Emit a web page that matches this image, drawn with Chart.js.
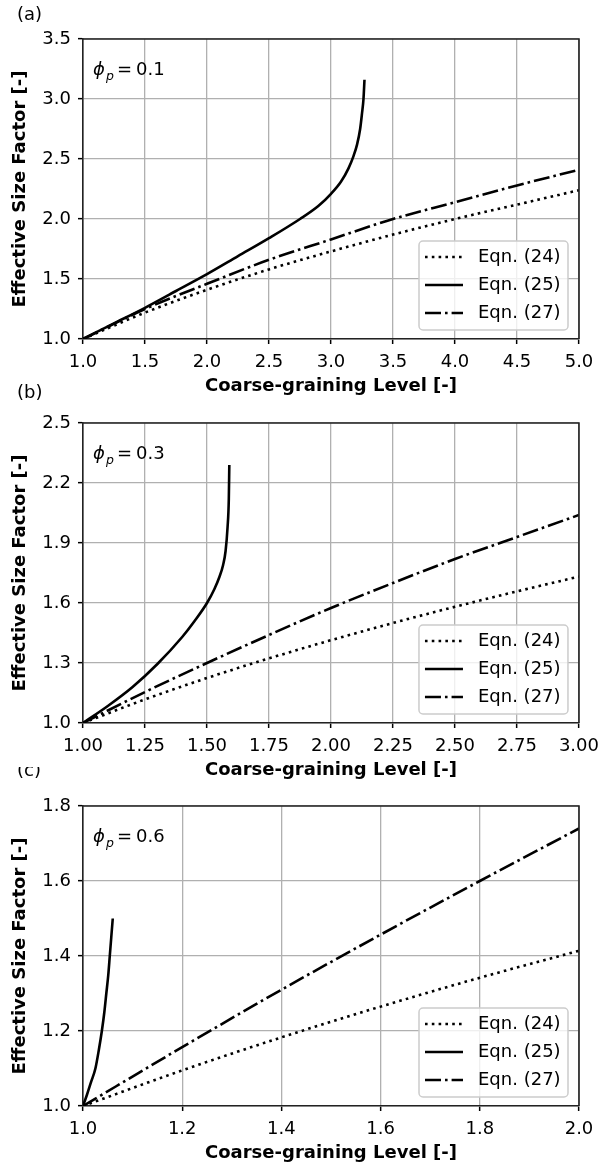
<!DOCTYPE html>
<html>
<head>
<meta charset="utf-8">
<script src="https://cdn.jsdelivr.net/npm/chart.js@4/dist/chart.umd.min.js"></script>
<style>
html, body { margin: 0; padding: 0; background: #fff; }
#wrap { position: relative; width: 607px; height: 1166px; overflow: hidden; }
.panel { position: absolute; left: 0; width: 607px; height: 399px; }
</style>
</head>
<body>
<div id="wrap">
  <div class="panel" style="top:0"><canvas id="chartA"></canvas></div>
  <div class="panel" style="top:384px"><canvas id="chartB"></canvas></div>
  <div class="panel" style="top:767px"><canvas id="chartC"></canvas></div>
</div>
<script>
var seriesLabels = ['Eqn. (24)', 'Eqn. (25)', 'Eqn. (27)'];

// (a) phi_p = 0.1
var xA = [1.0, 1.5, 2.0, 2.5, 3.0, 3.5, 4.0, 4.5, 5.0];
var eq24A = [1.0, 1.22, 1.41, 1.58, 1.73, 1.87, 2.0, 2.12, 2.24];
var eq27A = [1.0, 1.25, 1.46, 1.66, 1.83, 2.0, 2.14, 2.28, 2.41];
var eq25xA = [1.0, 1.25, 1.5, 1.75, 2.0, 2.25, 2.5, 2.75, 2.9, 3.0, 3.08, 3.14, 3.18, 3.21, 3.235, 3.25, 3.262, 3.27];
var eq25yA = [1.0, 1.13, 1.26, 1.40, 1.54, 1.69, 1.84, 2.0, 2.11, 2.21, 2.31, 2.42, 2.52, 2.62, 2.75, 2.88, 3.0, 3.16];
var xTicksA = [1.0, 1.5, 2.0, 2.5, 3.0, 3.5, 4.0, 4.5, 5.0];
var yTicksA = [1.0, 1.5, 2.0, 2.5, 3.0, 3.5];

// (b) phi_p = 0.3
var xB = [1.0, 1.25, 1.5, 1.75, 2.0, 2.25, 2.5, 2.75, 3.0];
var eq24B = [1.0, 1.118, 1.225, 1.323, 1.414, 1.5, 1.581, 1.658, 1.732];
var eq27B = [1.0, 1.155, 1.30, 1.44, 1.575, 1.70, 1.82, 1.93, 2.04];
var eq25xB = [1.0, 1.1, 1.2, 1.3, 1.4, 1.45, 1.5, 1.53, 1.55, 1.565, 1.575, 1.583, 1.588, 1.59];
var eq25yB = [1.0, 1.085, 1.18, 1.295, 1.43, 1.51, 1.6, 1.67, 1.73, 1.79, 1.86, 1.98, 2.12, 2.29];
var xTicksB = [1.0, 1.25, 1.5, 1.75, 2.0, 2.25, 2.5, 2.75, 3.0];
var yTicksB = [1.0, 1.3, 1.6, 1.9, 2.2, 2.5];

// (c) phi_p = 0.6
var xC = [1.0, 1.2, 1.4, 1.6, 1.8, 2.0];
var eq24C = [1.0, 1.095, 1.183, 1.265, 1.342, 1.414];
var eq27C = [1.0, 1.157, 1.31, 1.457, 1.6, 1.74];
var eq25xC = [1.0, 1.008, 1.016, 1.025, 1.032, 1.038, 1.043, 1.047, 1.051, 1.054, 1.057, 1.06];
var eq25yC = [1.0, 1.03, 1.063, 1.1, 1.15, 1.2, 1.25, 1.3, 1.35, 1.4, 1.45, 1.5];
var xTicksC = [1.0, 1.2, 1.4, 1.6, 1.8, 2.0];
var yTicksC = [1.0, 1.2, 1.4, 1.6, 1.8];

var FONT = 'DejaVu Sans';

function pts(xs, ys) {
    return xs.map(function (x, i) { return { x: x, y: ys[i] }; });
}

// legend box, panel letter, phi label and top/right spines
var decoPlugin = {
    id: 'deco',
    afterDatasetsDraw: function (chart) {
        var ctx = chart.ctx, a = chart.chartArea;
        var w = 149, h = 89;
        var bx = a.right - 11 - w, by = a.bottom - 9 - h, r = 4;
        ctx.save();
        ctx.beginPath();
        ctx.moveTo(bx + r, by);
        ctx.arcTo(bx + w, by, bx + w, by + h, r);
        ctx.arcTo(bx + w, by + h, bx, by + h, r);
        ctx.arcTo(bx, by + h, bx, by, r);
        ctx.arcTo(bx, by, bx + w, by, r);
        ctx.closePath();
        ctx.fillStyle = 'rgba(255,255,255,0.8)';
        ctx.fill();
        ctx.strokeStyle = '#cccccc';
        ctx.lineWidth = 1.5;
        ctx.stroke();

        chart.data.datasets.forEach(function (ds, i) {
            var y = by + 16 + i * 28;
            ctx.beginPath();
            ctx.setLineDash(ds.borderDash || []);
            ctx.lineCap = 'butt';
            ctx.strokeStyle = ds.borderColor;
            ctx.lineWidth = ds.borderWidth;
            ctx.moveTo(bx + 6, y);
            ctx.lineTo(bx + 44, y);
            ctx.stroke();
            ctx.setLineDash([]);
            ctx.fillStyle = '#000';
            ctx.font = '18px "' + FONT + '"';
            ctx.textBaseline = 'middle';
            ctx.textAlign = 'left';
            ctx.fillText(ds.label, bx + 59, y);
        });
        ctx.restore();
    },
    afterDraw: function (chart, args, opts) {
        var ctx = chart.ctx, a = chart.chartArea;
        ctx.save();
        ctx.strokeStyle = '#222';
        ctx.lineWidth = 1.6;
        ctx.beginPath();
        ctx.moveTo(a.left, a.top);
        ctx.lineTo(a.right, a.top);
        ctx.lineTo(a.right, a.bottom);
        ctx.stroke();

        ctx.fillStyle = '#000';
        ctx.textBaseline = 'middle';
        ctx.textAlign = 'left';
        ctx.font = '18px "' + FONT + '"';
        ctx.fillText(opts.panel, 17, opts.panelY);

        // phi_p = value
        ctx.textBaseline = 'alphabetic';
        var x0 = a.left + 10, base = a.top + 36;
        ctx.font = 'italic 18px "' + FONT + '"';
        ctx.fillText('\u03d5', x0, base);
        ctx.font = 'italic 12.5px "' + FONT + '"';
        ctx.fillText('p', x0 + 13, base + 5);
        ctx.font = '18px "' + FONT + '"';
        ctx.fillText('=', x0 + 24, base);
        ctx.fillText(opts.phi, x0 + 43, base);
        ctx.restore();
    }
};

function makeChart(id, d) {
    var lineBase = { borderColor: '#000', borderWidth: 2.6, pointRadius: 0, fill: false, cubicInterpolationMode: 'monotone', borderCapStyle: 'butt' };
    var tickFont = { family: FONT, size: 18 };
    var titleFont = { family: FONT, size: 18, weight: 'bold' };
    var gridOpts = { color: '#b0b0b0', lineWidth: 1.3, tickColor: '#000', tickLength: 5, tickWidth: 1.5 };
    return new Chart(document.getElementById(id), {
        type: 'line',
        data: {
            datasets: [
                Object.assign({ label: seriesLabels[0], data: pts(d.x, d.eq24), borderDash: [2.6, 4.2] }, lineBase),
                Object.assign({ label: seriesLabels[1], data: pts(d.eq25x, d.eq25y), borderDash: [] }, lineBase),
                Object.assign({ label: seriesLabels[2], data: pts(d.x, d.eq27), borderDash: [16, 4, 2.6, 4] }, lineBase)
            ]
        },
        plugins: [decoPlugin],
        options: {
            responsive: true,
            maintainAspectRatio: false,
            animation: false,
            layout: { padding: { left: 0, right: 28, top: 39, bottom: 0 } },
            plugins: {
                legend: { display: false },
                tooltip: { enabled: false },
                deco: { panel: d.panel, panelY: d.panelY, phi: d.phi }
            },
            scales: {
                x: {
                    type: 'linear',
                    min: d.xTicks[0],
                    max: d.xTicks[d.xTicks.length - 1],
                    afterBuildTicks: function (s) { s.ticks = d.xTicks.map(function (v) { return { value: v }; }); },
                    afterFit: function (s) { s.height = 60; },
                    ticks: {
                        font: tickFont,
                        color: '#000',
                        padding: 8,
                        maxRotation: 0,
                        autoSkip: false,
                        callback: function (v) { return v.toFixed(d.xDec); }
                    },
                    grid: gridOpts,
                    border: { display: true, color: '#222', width: 1.6 },
                    title: {
                        display: true,
                        text: 'Coarse-graining Level [-]',
                        color: '#000',
                        font: titleFont,
                        padding: { top: 0, bottom: 2 }
                    }
                },
                y: {
                    type: 'linear',
                    min: d.yTicks[0],
                    max: d.yTicks[d.yTicks.length - 1],
                    afterBuildTicks: function (s) { s.ticks = d.yTicks.map(function (v) { return { value: v }; }); },
                    afterFit: function (s) { s.width = 83; },
                    ticks: {
                        font: tickFont,
                        color: '#000',
                        padding: 7,
                        callback: function (v) { return v.toFixed(1); }
                    },
                    grid: gridOpts,
                    border: { display: true, color: '#222', width: 1.6 },
                    title: {
                        display: true,
                        text: 'Effective Size Factor [-]',
                        color: '#000',
                        font: titleFont,
                        padding: { top: 10, bottom: 0 }
                    }
                }
            }
        }
    });
}

makeChart('chartA', { x: xA, eq24: eq24A, eq27: eq27A, eq25x: eq25xA, eq25y: eq25yA, xTicks: xTicksA, yTicks: yTicksA, xDec: 1, panel: '(a)', panelY: 15, phi: '0.1' });
makeChart('chartB', { x: xB, eq24: eq24B, eq27: eq27B, eq25x: eq25xB, eq25y: eq25yB, xTicks: xTicksB, yTicks: yTicksB, xDec: 2, panel: '(b)', panelY: 9, phi: '0.3' });
makeChart('chartC', { x: xC, eq24: eq24C, eq27: eq27C, eq25x: eq25xC, eq25y: eq25yC, xTicks: xTicksC, yTicks: yTicksC, xDec: 1, panel: '(c)', panelY: 4, phi: '0.6' });
</script>
</body>
</html>
